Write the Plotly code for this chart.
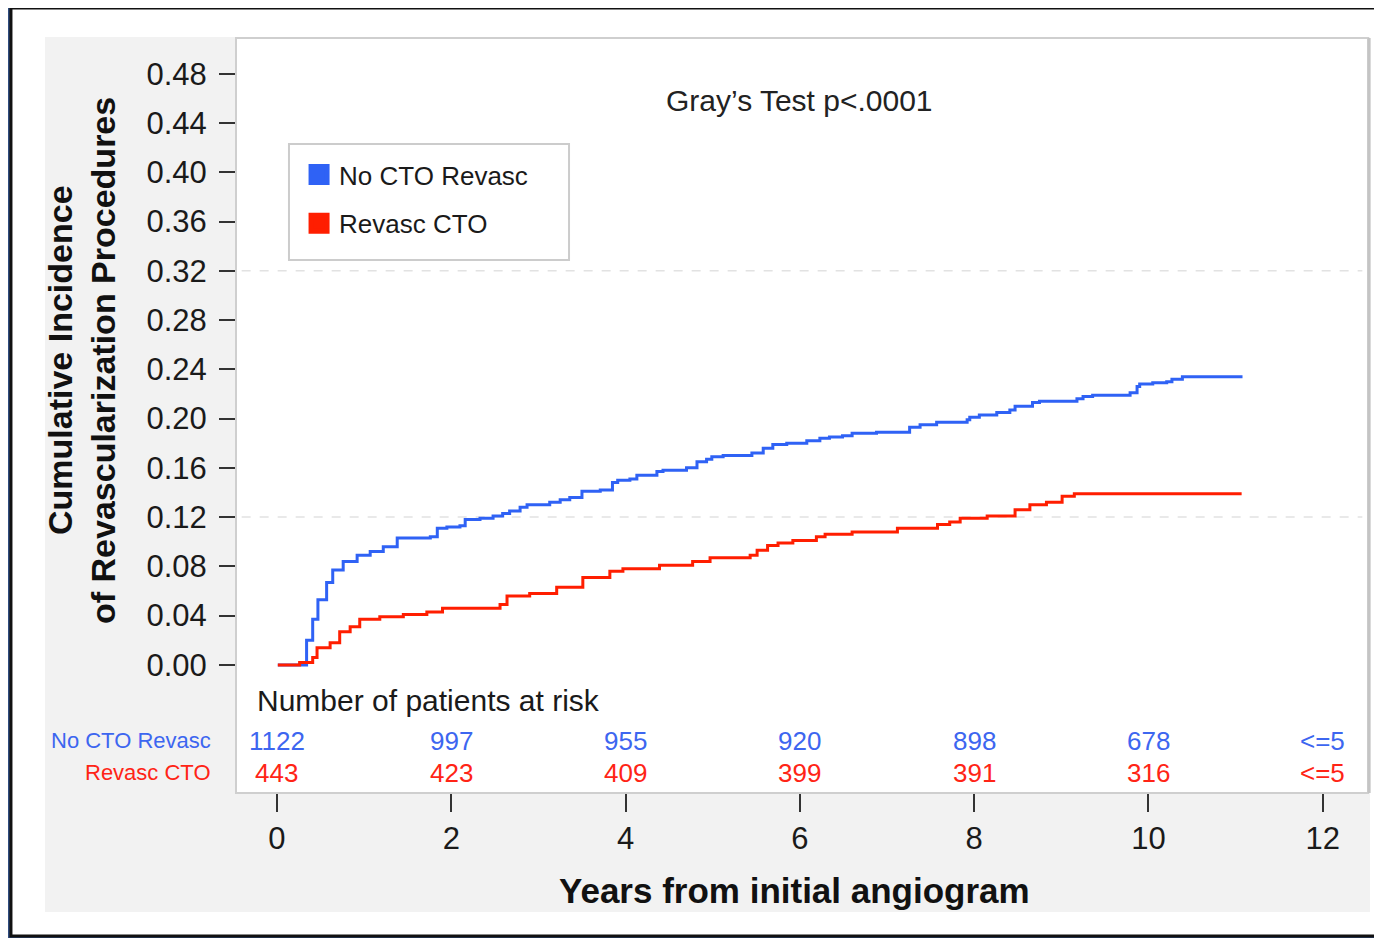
import plotly.graph_objects as go

BLUE = "#2f62f5"
RED = "#ff1e00"
BLUE_TXT = "#3d66f0"
RED_TXT = "#ff2416"
SANS = "Liberation Sans, Arial, sans-serif"

# cumulative incidence
no_cto_years = [0.01, 0.26, 0.34, 0.41, 0.47, 0.57, 0.64, 0.76, 0.92, 1.07, 1.22, 1.38, 1.76, 1.84,
                1.95, 2.10, 2.16, 2.33, 2.48, 2.59, 2.67, 2.79, 2.87, 3.13, 3.25, 3.36, 3.50, 3.71,
                3.85, 3.91, 4.05, 4.13, 4.28, 4.36, 4.43, 4.70, 4.82, 4.93, 4.99, 5.12, 5.39, 5.45,
                5.58, 5.69, 5.85, 5.96, 6.08, 6.23, 6.34, 6.49, 6.60, 6.88, 7.14, 7.26, 7.38, 7.57,
                7.92, 7.95, 8.06, 8.26, 8.41, 8.47, 8.67, 8.75, 9.18, 9.25, 9.36, 9.79, 9.87, 9.90,
                10.05, 10.21, 10.27, 10.39, 11.08]
no_cto_inc = [0.000, 0.000, 0.020, 0.037, 0.053, 0.067, 0.077, 0.084, 0.089, 0.092, 0.096, 0.103,
              0.104, 0.111, 0.112, 0.113, 0.118, 0.119, 0.121, 0.123, 0.125, 0.128, 0.130, 0.132,
              0.134, 0.136, 0.141, 0.142, 0.148, 0.150, 0.151, 0.154, 0.154, 0.157, 0.158, 0.160,
              0.165, 0.167, 0.169, 0.170, 0.170, 0.172, 0.176, 0.179, 0.180, 0.180, 0.182, 0.184,
              0.185, 0.186, 0.188, 0.189, 0.189, 0.193, 0.195, 0.197, 0.199, 0.201, 0.203, 0.205,
              0.207, 0.210, 0.213, 0.214, 0.216, 0.218, 0.219, 0.221, 0.226, 0.228, 0.229, 0.230,
              0.232, 0.234, 0.234]

revasc_years = [0.01, 0.26, 0.41, 0.46, 0.61, 0.72, 0.84, 0.95, 1.18, 1.45, 1.72, 1.90, 2.56, 2.64,
                2.90, 3.21, 3.51, 3.82, 3.97, 4.39, 4.77, 4.97, 5.43, 5.51, 5.63, 5.75, 5.92, 6.19,
                6.29, 6.60, 7.12, 7.58, 7.72, 7.84, 8.15, 8.47, 8.64, 8.83, 9.01, 9.15, 11.07]
revasc_inc = [0.000, 0.002, 0.006, 0.014, 0.018, 0.027, 0.031, 0.037, 0.039, 0.041, 0.043, 0.046,
              0.049, 0.056, 0.058, 0.063, 0.071, 0.076, 0.078, 0.081, 0.084, 0.087, 0.089, 0.093,
              0.097, 0.099, 0.101, 0.104, 0.106, 0.108, 0.111, 0.114, 0.116, 0.119, 0.121, 0.126,
              0.130, 0.132, 0.137, 0.139, 0.139]

risk_years = [0, 2, 4, 6, 8, 10, 12]
risk_no_cto = ["1122", "997", "955", "920", "898", "678", "<=5"]
risk_revasc = ["443", "423", "409", "399", "391", "316", "<=5"]

y_ticks = [0.00, 0.04, 0.08, 0.12, 0.16, 0.20, 0.24, 0.28, 0.32, 0.36, 0.40, 0.44, 0.48]
x_ticks = [0, 2, 4, 6, 8, 10, 12]

fig = go.Figure()
fig.add_trace(go.Scatter(x=no_cto_years, y=no_cto_inc, mode="lines", line=dict(color=BLUE, width=3, shape="hv"),
                         showlegend=False, hoverinfo="skip"))
fig.add_trace(go.Scatter(x=revasc_years, y=revasc_inc, mode="lines", line=dict(color=RED, width=3, shape="hv"),
                         showlegend=False, hoverinfo="skip"))
# legend entries with square swatches
for name, col, grp in [("No CTO Revasc", BLUE, "a"), ("Revasc CTO", RED, "b")]:
    fig.add_trace(go.Scatter(x=[None], y=[None], mode="markers", name=name, legendgroup=grp,
                             marker=dict(symbol="square", size=16, color=col, line=dict(color=col, width=5))))

shapes = [
    # outer white frame
    dict(type="rect", xref="paper", yref="paper", x0=-0.1988, x1=1.0194, y0=-0.1894, y1=1.0397,
         fillcolor="white", line=dict(color="#111111", width=3), layer="below"),
    # gray panel
    dict(type="rect", xref="paper", yref="paper", x0=-0.1687, x1=1.0018, y0=-0.1576, y1=1.0013,
         fillcolor="#f2f2f2", line=dict(width=0), layer="below"),
    # white plot area
    dict(type="rect", xref="paper", yref="paper", x0=0, x1=1, y0=0, y1=1,
         fillcolor="white", line=dict(color="#cfcfcf", width=2), layer="below"),
    dict(type="line", xref="paper", yref="paper", x0=1.001, x1=1.001, y0=0, y1=1,
         line=dict(color="#c4c4c4", width=3)),
    # legend box
    dict(type="rect", xref="paper", yref="paper", x0=0.0468, x1=0.2942, y0=0.7060, y1=0.8596,
         fillcolor="white", line=dict(color="#cccccc", width=2), layer="below"),
]
for yv in [0.32, 0.12]:
    shapes.append(dict(type="line", xref="paper", yref="y", x0=0.005, x1=0.995, y0=yv, y1=yv,
                       line=dict(color="#e2e2e2", width=1.5, dash="dash"), layer="below"))

ann = [
    dict(x=6.0, y=0.458, xref="x", yref="y", text="Gray’s Test p<.0001", showarrow=False,
         font=dict(family=SANS, size=30, color="#222222")),
    dict(x=-0.25, y=-0.0292, xref="x", yref="y", text="Number of patients at risk", showarrow=False,
         xanchor="left", font=dict(family=SANS, size=30, color="#1a1a1a")),
    dict(x=-0.0203, y=-0.0617, xref="paper", yref="y", text="No CTO Revasc", showarrow=False,
         xanchor="right", font=dict(family=SANS, size=22, color=BLUE_TXT)),
    dict(x=-0.0203, y=-0.0877, xref="paper", yref="y", text="Revasc CTO", showarrow=False,
         xanchor="right", font=dict(family=SANS, size=22, color=RED_TXT)),
    dict(x=-0.1555, y=0.5735, xref="paper", yref="paper", text="<b>Cumulative Incidence</b>", showarrow=False,
         xanchor="center", yanchor="middle", textangle=-90, font=dict(family=SANS, size=34, color="#111111")),
    dict(x=-0.1175, y=0.5735, xref="paper", yref="paper", text="<b>of Revascularization Procedures</b>",
         showarrow=False, xanchor="center", yanchor="middle", textangle=-90,
         font=dict(family=SANS, size=34, color="#111111")),
    dict(x=0.4938, y=-0.1285, xref="paper", yref="paper", text="<b>Years from initial angiogram</b>",
         showarrow=False, xanchor="center", yanchor="middle", font=dict(family=SANS, size=35, color="#111111")),
]
for xv, a, b in zip(risk_years, risk_no_cto, risk_revasc):
    ann.append(dict(x=xv, y=-0.0617, xref="x", yref="y", text=a, showarrow=False,
                    font=dict(family=SANS, size=26, color=BLUE_TXT)))
    ann.append(dict(x=xv, y=-0.0877, xref="x", yref="y", text=b, showarrow=False,
                    font=dict(family=SANS, size=26, color=RED_TXT)))

fig.update_layout(
    width=1374, height=930,
    margin=dict(l=228, r=14, t=30, b=145),
    paper_bgcolor="#2f4c7e",
    plot_bgcolor="rgba(0,0,0,0)",
    shapes=shapes,
    annotations=ann,
    font=dict(family=SANS, color="#1a1a1a"),
    legend=dict(x=0.0557, y=0.8503, xanchor="left", yanchor="top", bgcolor="rgba(0,0,0,0)",
                borderwidth=0, font=dict(family=SANS, size=26, color="#1a1a1a"),
                tracegroupgap=12),
)
fig.update_xaxes(range=[-0.47, 12.52], tickvals=x_ticks, ticks="outside", ticklen=18, tickwidth=2,
                 tickcolor="#333333", showgrid=False, zeroline=False, showline=False,
                 tickfont=dict(family=SANS, size=31, color="#1a1a1a"))
fig.update_yaxes(range=[-0.104, 0.509], tickvals=y_ticks, tickformat=".2f", ticks="outside", ticklen=16,
                 tickwidth=2, tickcolor="#333333", showgrid=False, zeroline=False, showline=False,
                 ticklabelstandoff=6, tickfont=dict(family=SANS, size=31, color="#1a1a1a"))

fig.write_html("out.html")
